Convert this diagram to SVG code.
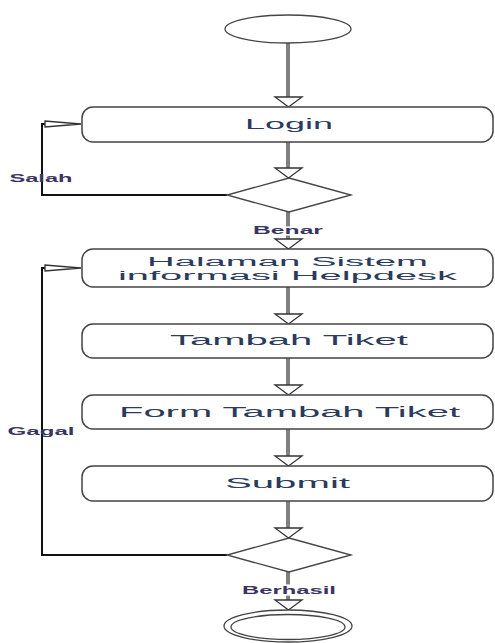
<svg xmlns="http://www.w3.org/2000/svg" width="495" height="643" viewBox="0 0 495 643">
<style>
.box{fill:#fff;stroke:#444;stroke-width:1.5}
.shape{fill:#fff;stroke:#444;stroke-width:1.3}
.flow{stroke:#808080;stroke-width:4;fill:none}
.loop{stroke:#111;stroke-width:2;fill:none}
.head{fill:#fff;stroke:#333;stroke-width:1.3}
.t{font-family:"Liberation Sans",Arial,sans-serif;font-size:14px;fill:#2a3b5c;text-anchor:middle}
.t2{font-family:"Liberation Sans",Arial,sans-serif;font-size:12.5px;fill:#2a3b5c;text-anchor:middle}
.lbl{font-family:"Liberation Sans",Arial,sans-serif;font-size:10px;font-weight:bold;fill:#3a3560;text-anchor:middle}
</style>
<rect width="495" height="643" fill="#fff"/>
<g id="connectors">
<line class="flow" x1="288" y1="43" x2="288" y2="97"/>
<polygon class="head" points="275,97 302,97 288.5,107"/>
<line class="flow" x1="288" y1="142" x2="288" y2="168"/>
<polygon class="head" points="275,168 302,168 288.5,178"/>
<polyline class="loop" points="227,195 42,195 42,124 46,124"/>
<polygon class="head" points="45,121 45,127 81,124"/>
<text class="lbl" x="41" y="182" textLength="63" lengthAdjust="spacingAndGlyphs">Salah</text>
<line class="flow" x1="288" y1="212" x2="288" y2="239"/>
<text class="lbl" x="288" y="234" textLength="70" lengthAdjust="spacingAndGlyphs" style="fill:#fff;stroke:#fff;stroke-width:3">Benar</text>
<text class="lbl" x="288" y="234" textLength="70" lengthAdjust="spacingAndGlyphs">Benar</text>
<polygon class="head" points="275,239 302,239 288.5,249"/>
<line class="flow" x1="288" y1="287" x2="288" y2="314"/>
<polygon class="head" points="275,314 302,314 288.5,324"/>
<line class="flow" x1="288" y1="358" x2="288" y2="385"/>
<polygon class="head" points="275,385 302,385 288.5,395"/>
<line class="flow" x1="288" y1="429" x2="288" y2="456"/>
<polygon class="head" points="275,456 302,456 288.5,466"/>
<line class="flow" x1="288" y1="501" x2="288" y2="528"/>
<polygon class="head" points="275,528 302,528 288.5,538"/>
<polyline class="loop" points="227,555 42,555 42,268 46,268"/>
<polygon class="head" points="45,265 45,271 81,268"/>
<text class="lbl" x="41" y="435" textLength="67" lengthAdjust="spacingAndGlyphs">Gagal</text>
<line class="flow" x1="288" y1="572" x2="288" y2="600"/>
<text class="lbl" x="289" y="594" textLength="94" lengthAdjust="spacingAndGlyphs" style="fill:#fff;stroke:#fff;stroke-width:3">Berhasil</text>
<text class="lbl" x="289" y="594" textLength="94" lengthAdjust="spacingAndGlyphs">Berhasil</text>
<polygon class="head" points="275,600 302,600 288.5,610"/>
</g>
<g id="start"><ellipse class="shape" cx="288" cy="29" rx="63" ry="14"/></g>
<g id="login"><rect class="box" x="82" y="107" width="411" height="35" rx="11"/>
<text class="t" x="289" y="129" textLength="88" lengthAdjust="spacingAndGlyphs">Login</text></g>
<g id="decision1"><polygon class="shape" points="289,178 351,195 289,212 227,195"/></g>
<g id="halaman"><rect class="box" x="82" y="249" width="411" height="38" rx="11"/>
<text class="t2" x="287.5" y="266" textLength="281" lengthAdjust="spacingAndGlyphs">Halaman Sistem</text>
<text class="t2" x="287.5" y="280" textLength="339" lengthAdjust="spacingAndGlyphs">informasi Helpdesk</text></g>
<g id="tambah"><rect class="box" x="82" y="324" width="411" height="34" rx="11"/>
<text class="t" x="289" y="345" textLength="238" lengthAdjust="spacingAndGlyphs">Tambah Tiket</text></g>
<g id="form"><rect class="box" x="82" y="395" width="411" height="34" rx="11"/>
<text class="t" x="289.5" y="417" textLength="341" lengthAdjust="spacingAndGlyphs">Form Tambah Tiket</text></g>
<g id="submit"><rect class="box" x="82" y="466" width="411" height="35" rx="11"/>
<text class="t" x="287.5" y="488" textLength="125" lengthAdjust="spacingAndGlyphs">Submit</text></g>
<g id="decision2"><polygon class="shape" points="289,538 351,555 289,572 227,555"/></g>
<g id="end"><ellipse class="shape" cx="288" cy="626" rx="64" ry="16"/>
<ellipse class="shape" cx="288" cy="627" rx="57" ry="12.5"/></g>
</svg>
